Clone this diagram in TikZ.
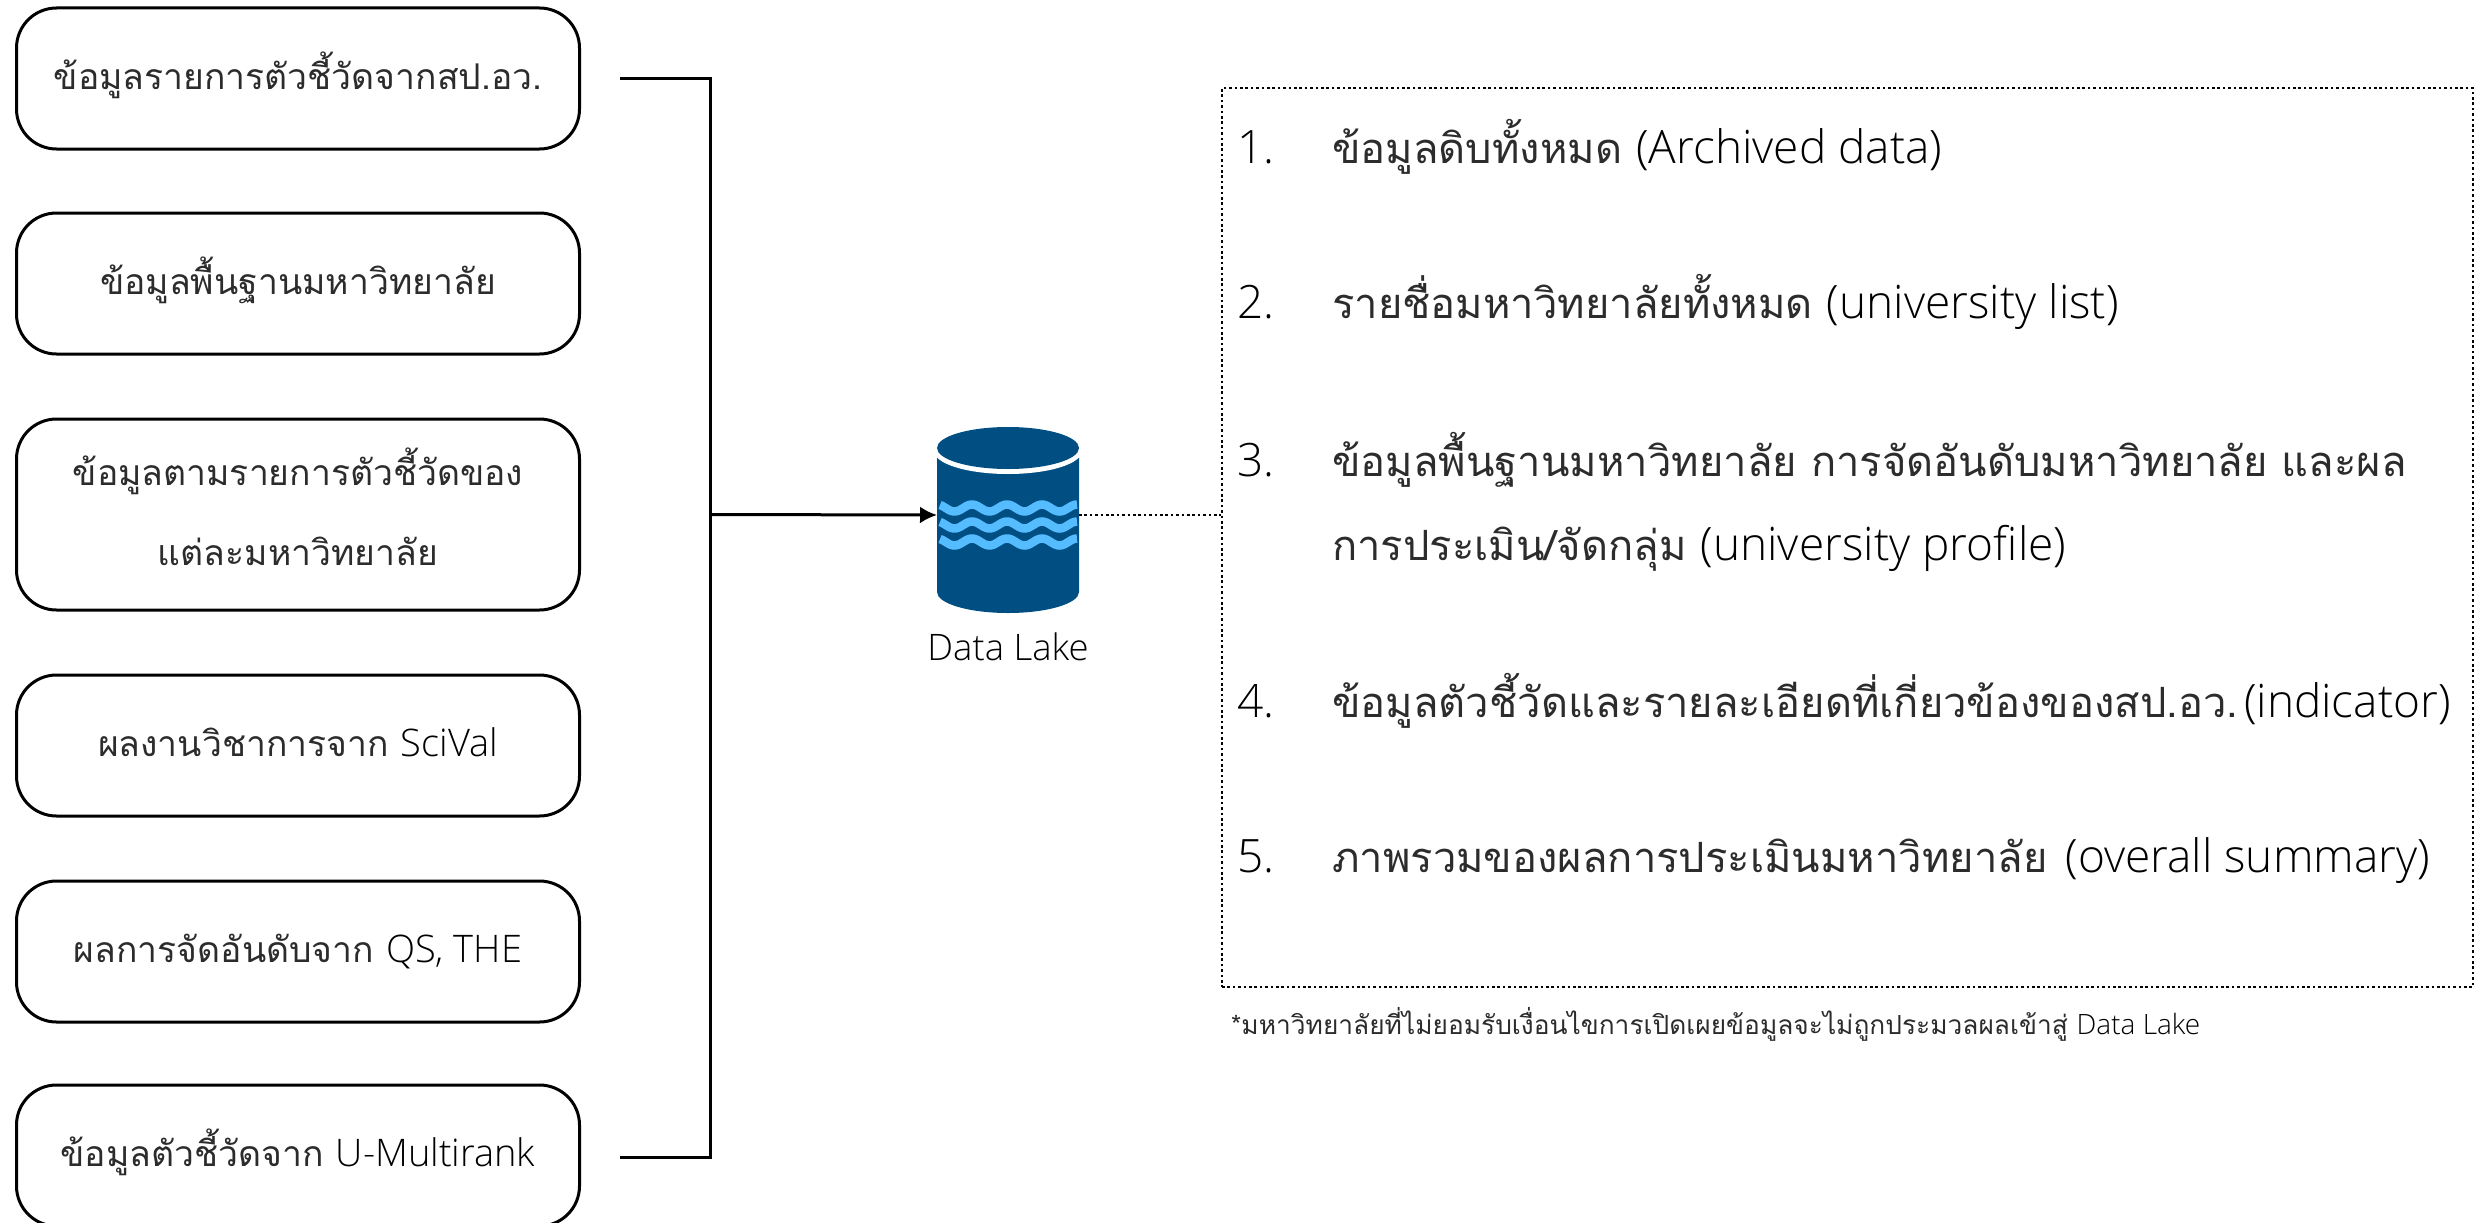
\documentclass[tikz,border=0pt]{standalone}
\usepackage{fontspec}
\setmainfont[Script=Thai]{Loma}
\newfontfamily\lat{Open Sans Light}
\usetikzlibrary{arrows.meta}
\definecolor{lakeblue}{HTML}{014F82}
\definecolor{wavy}{HTML}{54BCFF}
\definecolor{ink}{HTML}{2C2C2C}
\newcommand{\bline}[1]{\raisebox{-10.5pt}[0pt][0pt]{#1}}
\newcommand{\blat}[1]{{\color{black}\lat\fontsize{38}{80}\selectfont #1}}
\newcommand{\ilat}[1]{{\color{black}\lat\fontsize{46}{50}\selectfont #1}}
\tikzset{
  srcbox/.style={draw=black,line width=3pt,rounded corners=40pt,minimum width=563pt,align=center,text=ink,font=\fontsize{35.5}{80}\selectfont,inner sep=0pt},
  link/.style={draw=black,line width=3pt},
  dotline/.style={draw=black,line width=2.6pt,dash pattern=on 2.6pt off 2.8pt},
  itemtext/.style={anchor=base west,text=ink,font=\fontsize{41.7}{50}\selectfont,inner sep=0pt},
  wave/.style={draw=wavy,line width=8.5pt}
}
\begin{document}
\begin{tikzpicture}[x=1pt,y=-1pt]
\useasboundingbox (0,0) rectangle (2481,1223);
\node[srcbox,minimum height=141pt] (b1) at (298,78.5) {\bline{ข้อมูลรายการตัวชี้วัดจากสป.อว.}};
\node[srcbox,minimum height=141pt] (b2) at (298,283.5) {\bline{ข้อมูลพื้นฐานมหาวิทยาลัย}};
\node[srcbox,minimum height=191pt] (b3) at (298,514.5) {\raisebox{-50.5pt}[0pt][0pt]{\parbox[b]{540pt}{\centering ข้อมูลตามรายการตัวชี้วัดของ\\แต่ละมหาวิทยาลัย}}};
\node[srcbox,minimum height=141pt] (b4) at (298,745.5) {\bline{ผลงานวิชาการจาก \blat{SciVal}}};
\node[srcbox,minimum height=141pt] (b5) at (298,951.5) {\bline{ผลการจัดอันดับจาก \blat{QS, THE}}};
\node[srcbox,minimum height=141pt] (b6) at (298,1155.5) {\bline{ข้อมูลตัวชี้วัดจาก \blat{U-Multirank}}};
% Data lake cylinder
\coordinate (lakeW) at (937,515);
\coordinate (lakeE) at (1079,515);
\fill[lakeblue] (937,450) -- (937,592) arc[start angle=180,end angle=360,x radius=71pt,y radius=21pt] -- (1079,450) -- cycle;
\fill[white] (1008,451) ellipse[x radius=74pt,y radius=23pt];
\fill[lakeblue] (1008,448) ellipse[x radius=71pt,y radius=21pt];
\foreach \c in {508,525,542}
  \draw[wave] plot[domain=940:1077,samples=80] (\x,{\c-3.5*cos(10.2857*(\x-972))});
\node[font=\lat\fontsize{36.5}{40}\selectfont,text=black,inner sep=0pt] (lake) at (1008,647) {Data Lake};
% connectors
\coordinate (s1) at (620,78);
\coordinate (s6) at (620,1157);
\coordinate (join) at (710,514.5);
\draw[link] (s1) -- (710,78) -- (710,1157) -- (s6);
\draw[link,-{Latex[length=17pt,width=17pt]}] (join) -- (lakeW);
% panel
\node[dotline,draw,rectangle,minimum width=1251pt,minimum height=899pt,inner sep=0pt] (panel) at (1847.5,537.5) {};
\draw[dotline] (lakeE) -- (lakeE -| panel.west);
\node[itemtext] (n1) at (1237,163) {\ilat{1.}};
\node[itemtext] (i1) at (1332,163) {ข้อมูลดิบทั้งหมด \ilat{(Archived data)}};
\node[itemtext] (n2) at (1237,318) {\ilat{2.}};
\node[itemtext] (i2) at (1332,318) {รายชื่อมหาวิทยาลัยทั้งหมด \ilat{(university list)}};
\node[itemtext] (n3) at (1237,476) {\ilat{3.}};
\node[itemtext] (i3) at (1332,476) {ข้อมูลพื้นฐานมหาวิทยาลัย การจัดอันดับมหาวิทยาลัย และผล};
\node[itemtext] (i3b) at (1332,560) {การประเมิน/จัดกลุ่ม \ilat{(university profile)}};
\node[itemtext] (n4) at (1237,717) {\ilat{4.}};
\node[itemtext] (i4) at (1332,717) {ข้อมูลตัวชี้วัดและรายละเอียดที่เกี่ยวข้องของสป.อว.\hspace{6pt}\ilat{(indicator)}};
\node[itemtext] (n5) at (1237,872) {\ilat{5.}};
\node[itemtext] (i5) at (1332,872) {ภาพรวมของผลการประเมินมหาวิทยาลัย\hspace{18pt}\ilat{(overall summary)}};
\node[anchor=base west,text=ink,font=\fontsize{26.3}{34}\selectfont,inner sep=0pt] (note) at (1231,1034) {*มหาวิทยาลัยที่ไม่ยอมรับเงื่อนไขการเปิดเผยข้อมูลจะไม่ถูกประมวลผลเข้าสู่ {\color{black}\lat\fontsize{28}{34}\selectfont Data Lake}};
\end{tikzpicture}
\end{document}
